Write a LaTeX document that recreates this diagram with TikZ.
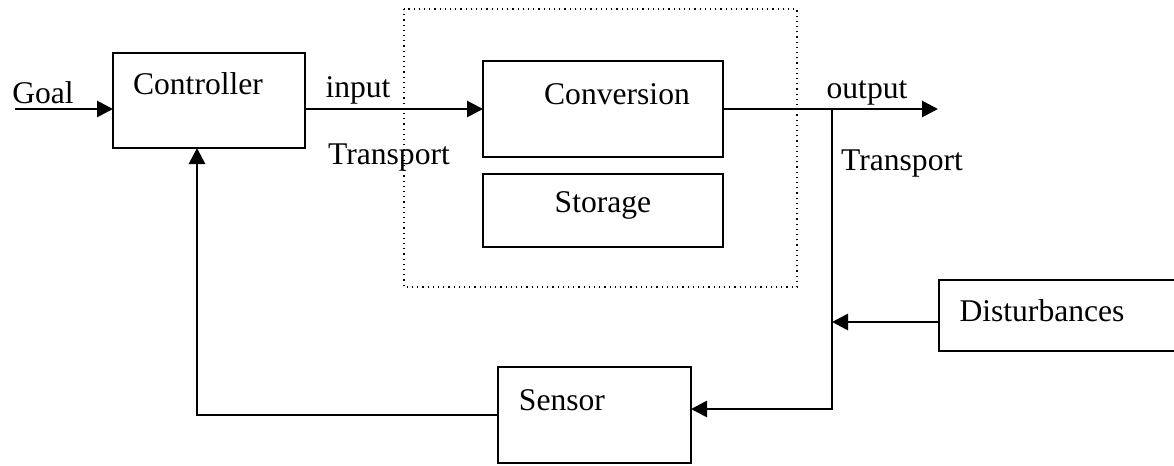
\documentclass[tikz,border=0pt]{standalone}
\usepackage{fontspec}
\setmainfont{Liberation Serif}
\usetikzlibrary{arrows.meta}

\begin{document}
\begin{tikzpicture}[x=0.5pt, y=-0.5pt, >={Triangle[length=8pt, width=8pt]},
  font=\fontsize{15.8}{19}\selectfont,
  block/.style={draw, line width=1.1pt, inner sep=0pt, outer sep=0pt},
  lbl/.style={inner sep=0pt},
  flow/.style={->, line width=1.4pt}]

\clip (0,0) rectangle (1174,466);
\fill[white] (0,0) rectangle (1174,466);

% Blocks
\node[block, minimum width=96pt, minimum height=47.5pt] (ctrl) at (209,100.5) {};
\node[block, minimum width=120pt, minimum height=48pt] (conv) at (603,109) {};
\node[block, minimum width=120pt, minimum height=36.5pt] (stor) at (603,210.5) {};
\node[block, minimum width=96.5pt, minimum height=48pt] (sens) at (594.5,415) {};
\node[block, minimum width=125.5pt, minimum height=35.5pt] (dist) at (1064.5,315.5) {};

% Process boundary (dotted)
\draw[dotted, line width=0.6pt] (404,9) rectangle (797,287);

% Texts
\node[lbl] (goaltxt) at (43,93) {Goal};
\node[lbl] (ctrltxt) at (198,84) {Controller};
\node[lbl] (intxt) at (358,90) {input};
\node[lbl] (trin) at (389,158) {Transport};
\node[lbl] (convtxt) at (617,94) {Conversion};
\node[lbl] (stortxt) at (603,205) {Storage};
\node[lbl] (outtxt) at (867,93) {output};
\node[lbl] (trout) at (902,164) {Transport};
\node[lbl] (disttxt) at (1042,311) {Disturbances};
\node[lbl] (senstxt) at (562,400) {Sensor};

% Free ends
\coordinate (goalin) at (15,109);
\coordinate (outend) at (938,109);
\coordinate (tap) at (832,109);
\coordinate (sensin) at (691,409);

% Connectors
\draw[flow] (goalin) -- (goalin -| ctrl.west);
\draw[flow] (ctrl.east |- conv.west) -- (conv.west);
\draw[flow] (conv.east) -- (outend);
\draw[flow] (tap) |- (sensin);
\draw[flow] ([yshift=-3.25pt]dist.west) -- (tap |- 0,322);
\draw[flow] (sens.west) -| ([xshift=-6pt]ctrl.south);

\end{tikzpicture}
\end{document}
